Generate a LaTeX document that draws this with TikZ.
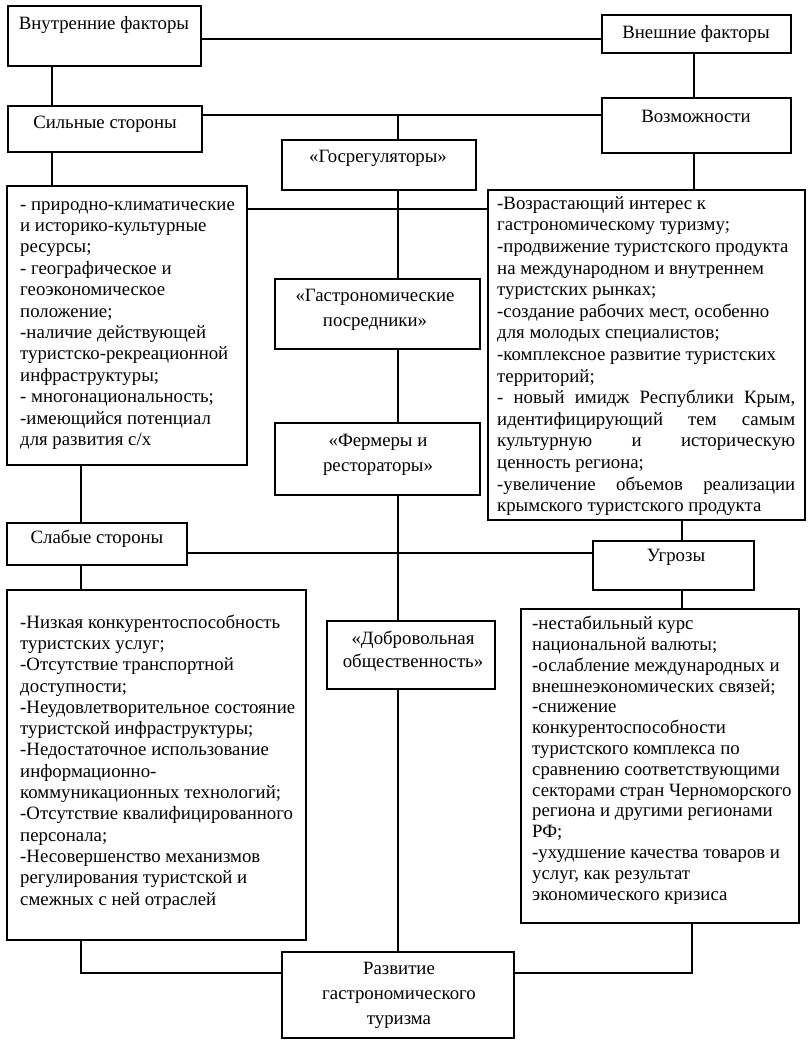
\documentclass[tikz,border=0pt]{standalone}
\usepackage{fontspec}
\setmainfont{Liberation Serif}
\newcommand\mybox[5]{\node[box, minimum width={(#4)-(#2)}, minimum height={(#5)-(#3)}] (#1) at (#2,#3) {};}
\newcommand\jst[1]{\makebox[298pt][s]{#1}}
\begin{document}
\begin{tikzpicture}[x=1pt,y=-1pt]
\tikzset{
  box/.style={draw, line width=1.7pt, inner sep=0pt, outer sep=0pt, anchor=north west, fill=white},
  lbl/.style={font=\fontsize{18.8}{25}\selectfont, inner sep=0pt, align=center},
  lst/.style={inner sep=0pt, align=left, anchor=north west},
  link/.style={line width=1.7pt}
}
\useasboundingbox (0,0) rectangle (808,1048);
% level and column coordinates
\coordinate (h1) at (0,39);
\coordinate (h2) at (0,115);
\coordinate (h3) at (0,209);
\coordinate (h4) at (0,553);
\coordinate (h5) at (0,973);
\coordinate (v1) at (52,0);
\coordinate (v2) at (694,0);
\coordinate (v3) at (398,0);
\coordinate (v4) at (81,0);
\coordinate (v5) at (682,0);
\coordinate (v6) at (692,0);
% boxes
\mybox{vnutr}{8}{6}{201}{66}
\mybox{vnesh}{602}{15}{791}{53}
\mybox{silnye}{8}{106}{202}{152}
\mybox{vozm}{602}{98}{791}{153}
\mybox{gosreg}{282}{140}{476}{190}
\mybox{slist}{7}{186}{247}{465}
\mybox{olist}{488}{190}{805}{520}
\mybox{gastro}{275}{279}{480}{349}
\mybox{fermer}{275}{423}{480}{495}
\mybox{slabye}{7}{523}{187}{565}
\mybox{ugroz}{593}{541}{754}{590}
\mybox{wlist}{7}{590}{306}{940}
\mybox{dobro}{327}{621}{495}{689}
\mybox{tlist}{521}{609}{799}{923}
\mybox{razv}{282}{952}{514}{1038}
% connectors
\draw[link] (vnutr.east |- h1) -- (vnesh.west |- h1);
\draw[link] (vnutr.south -| v1) -- (silnye.north -| v1);
\draw[link] (vnesh.south -| v2) -- (vozm.north -| v2);
\draw[link] (silnye.east |- h2) -- (vozm.west |- h2);
\draw[link] (h2 -| v3) -- (gosreg.north -| v3);
\draw[link] (silnye.south -| v1) -- (slist.north -| v1);
\draw[link] (vozm.south -| v2) -- (olist.north -| v2);
\draw[link] (slist.east |- h3) -- (olist.west |- h3);
\draw[link] (gosreg.south -| v3) -- (gastro.north -| v3);
\draw[link] (gastro.south -| v3) -- (fermer.north -| v3);
\draw[link] (fermer.south -| v3) -- (dobro.north -| v3);
\draw[link] (dobro.south -| v3) -- (razv.north -| v3);
\draw[link] (slist.south -| v4) -- (slabye.north -| v4);
\draw[link] (slabye.east |- h4) -- (ugroz.west |- h4);
\draw[link] (olist.south -| v5) -- (ugroz.north -| v5);
\draw[link] (slabye.south -| v4) -- (wlist.north -| v4);
\draw[link] (ugroz.south -| v5) -- (tlist.north -| v5);
\draw[link] (wlist.south -| v4) -- (h5 -| v4) -- (razv.west |- h5);
\draw[link] (tlist.south -| v6) -- (h5 -| v6) -- (razv.east |- h5);
% labels
\node[lbl] (vnutr-t) at (104,25) {Внутренние факторы};
\node[lbl] (vnesh-t) at (696,34) {Внешние факторы};
\node[lbl] (silnye-t) at (105,124) {Сильные стороны};
\node[lbl] (vozm-t) at (696,116) {Возможности};
\node[lbl] (gosreg-t) at (378,158) {«Госрегуляторы»};
\node[lbl] (gastro-t) at (375,310) {«Гастрономические\\посредники»};
\node[lbl] (fermer-t) at (378,455) {«Фермеры и\\рестораторы»};
\node[lbl] (slabye-t) at (97,539) {Слабые стороны};
\node[lbl] (ugroz-t) at (676,557) {Угрозы};
\node[lbl, font=\fontsize{18.8}{23}\selectfont] (dobro-t) at (413,651) {«Добровольная\\общественность»};
\node[lbl] (razv-t) at (399,995) {Развитие\\гастрономического\\туризма};
% lists
\node[lst, font=\fontsize{18.8}{21.4}\selectfont] (slist-t) at (20,195) {\strut- природно-климатические\\
и историко-культурные\\
ресурсы;\\
- географическое и\\
геоэкономическое\\
положение;\\
-наличие действующей\\
туристско-рекреационной\\
инфраструктуры;\\
- многонациональность;\\
-имеющийся потенциал\\
для развития с/х};
\node[lst, font=\fontsize{18.8}{21.6}\selectfont] (olist-t) at (497,194) {\strut-Возрастающий интерес к\\
гастрономическому туризму;\\
-продвижение туристского продукта\\
на международном и внутреннем\\
туристских рынках;\\
-создание рабочих мест, особенно\\
для молодых специалистов;\\
-комплексное развитие туристских\\
территорий;\\
\jst{- новый имидж Республики Крым,}\\
\jst{идентифицирующий тем самым}\\
\jst{культурную и историческую}\\
ценность региона;\\
\jst{-увеличение объемов реализации}\\
крымского туристского продукта};
\node[lst, font=\fontsize{18.8}{21.3}\selectfont] (wlist-t) at (20,613) {\strut-Низкая конкурентоспособность\\
туристских услуг;\\
-Отсутствие транспортной\\
доступности;\\
-Неудовлетворительное состояние\\
туристской инфраструктуры;\\
-Недостаточное использование\\
информационно-\\
коммуникационных технологий;\\
-Отсутствие квалифицированного\\
персонала;\\
-Несовершенство механизмов\\
регулирования туристской и\\
смежных с ней отраслей};
\node[lst, font=\fontsize{18.8}{20.8}\selectfont] (tlist-t) at (532,615) {\strut-нестабильный курс\\
национальной валюты;\\
-ослабление международных и\\
внешнеэкономических связей;\\
-снижение\\
конкурентоспособности\\
туристского комплекса по\\
сравнению соответствующими\\
секторами стран Черноморского\\
региона и другими регионами\\
РФ;\\
-ухудшение качества товаров и\\
услуг, как результат\\
экономического кризиса};
\end{tikzpicture}
\end{document}
